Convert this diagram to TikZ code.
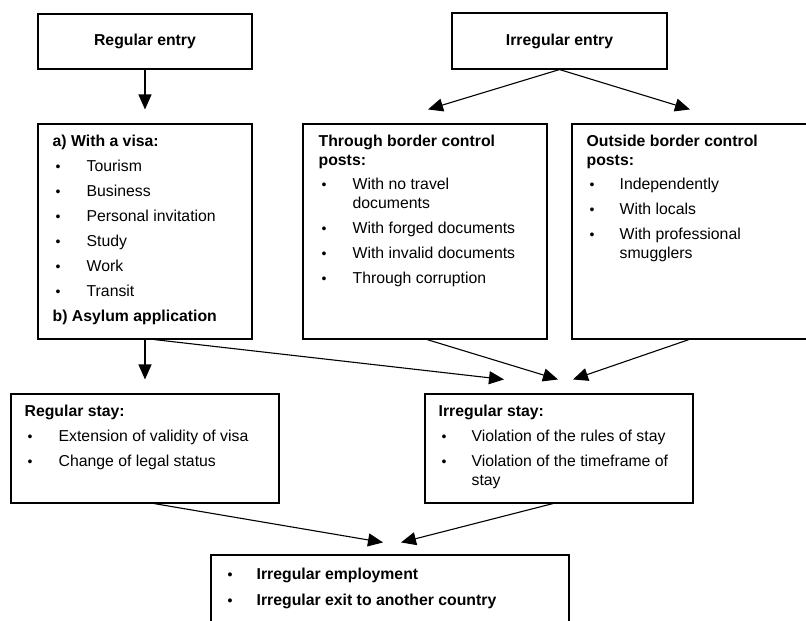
\documentclass[tikz,border=0pt]{standalone}
\usepackage{fontspec}
\setmainfont{Liberation Sans}
\usepackage{array}
\usetikzlibrary{arrows.meta,positioning,calc}
\newcommand{\bul}{\hspace{3pt}{\fontsize{14}{14}\selectfont\textbullet}}

\begin{document}
\begin{tikzpicture}[
    x=1pt, y=1pt,
    every node/.style={font=\fontsize{15.8}{19}\selectfont},
    box/.style={draw, line width=1.1pt, inner sep=0pt},
    head/.style={box, font=\fontsize{15.8}{19}\selectfont\bfseries},
    txt/.style={inner sep=0pt, anchor=north west},
    flow/.style={-{Triangle[length=15pt, width=13pt]}, line width=1.1pt},
]
\useasboundingbox (0,0) rectangle (806,-621);
\clip (0,0) rectangle (806,-621);

% === ENTRY ===
\node[head, minimum width=214pt, minimum height=55pt] (rentry) at (145,-41.5) {Regular entry};
\node[head, minimum width=215pt, minimum height=56pt] (ientry) at (559.5,-41) {Irregular entry};

% === WAYS OF ENTRY ===
\node[box, minimum width=214pt, minimum height=215pt] (visa) at (145,-231.5) {};
\node[box, minimum width=244pt, minimum height=215pt] (through) at (425,-231.5) {};
\node[box, minimum width=244pt, minimum height=215pt] (outside) at (694,-231.5) {};

\node[txt, below right=9.7pt and 15pt of visa.north west] (visatxt) {%
  \begin{tabular}{@{}p{34pt}@{}l@{}}
  \multicolumn{2}{@{}l@{}}{\bfseries a) With a visa:}\\[6pt]
  \bul & Tourism\\[6pt]
  \bul & Business\\[6pt]
  \bul & Personal invitation\\[6pt]
  \bul & Study\\[6pt]
  \bul & Work\\[6pt]
  \bul & Transit\\[6pt]
  \multicolumn{2}{@{}l@{}}{\bfseries b) Asylum application}
  \end{tabular}};

\node[txt, below right=9.7pt and 16pt of through.north west] (throughtxt) {%
  \begin{tabular}{@{}p{34pt}@{}l@{}}
  \multicolumn{2}{@{}l@{}}{\bfseries Through border control}\\
  \multicolumn{2}{@{}l@{}}{\bfseries posts:}\\[5pt]
  \bul & With no travel\\
       & documents\\[6pt]
  \bul & With forged documents\\[6pt]
  \bul & With invalid documents\\[6pt]
  \bul & Through corruption
  \end{tabular}};

\node[txt, below right=9.7pt and 15pt of outside.north west] (outsidetxt) {%
  \begin{tabular}{@{}p{33pt}@{}l@{}}
  \multicolumn{2}{@{}l@{}}{\bfseries Outside border control}\\
  \multicolumn{2}{@{}l@{}}{\bfseries posts:}\\[5pt]
  \bul & Independently\\[6pt]
  \bul & With locals\\[6pt]
  \bul & With professional\\
       & smugglers
  \end{tabular}};

% === STAY ===
\node[box, minimum width=268pt, minimum height=109pt] (rstay) at (145,-448.5) {};
\node[box, minimum width=268pt, minimum height=109pt] (istay) at (559,-448.5) {};

\node[txt, below right=9.7pt and 14pt of rstay.north west] (rstaytxt) {%
  \begin{tabular}{@{}p{34pt}@{}l@{}}
  \multicolumn{2}{@{}l@{}}{\bfseries Regular stay:}\\[6pt]
  \bul & Extension of validity of visa\\[6pt]
  \bul & Change of legal status
  \end{tabular}};

\node[txt, below right=9.7pt and 14pt of istay.north west] (istaytxt) {%
  \begin{tabular}{@{}p{33pt}@{}l@{}}
  \multicolumn{2}{@{}l@{}}{\bfseries Irregular stay:}\\[6pt]
  \bul & Violation of the rules of stay\\[6pt]
  \bul & Violation of the timeframe of\\
       & stay
  \end{tabular}};

% === OUTCOME ===
\node[box, minimum width=358pt, minimum height=85pt] (final) at (390,-597.5) {};
\node[txt, below right=11.7pt and 14pt of final.north west] (finaltxt) {%
  \bfseries
  \begin{tabular}{@{}p{32pt}@{}l@{}}
  \bul & Irregular employment\\[7pt]
  \bul & Irregular exit to another country
  \end{tabular}};

% Arrows
\draw[flow] (rentry.south) -- ([yshift=14pt]visa.north);
\draw[flow] (ientry.south) -- ([shift={(3pt,14pt)}]through.north);
\draw[flow] (ientry.south) -- ([shift={(-4pt,14pt)}]outside.north);
\draw[flow] (visa.south) -- ([yshift=14pt]rstay.north);
\draw[flow] ([xshift=9pt]visa.south) -- ([shift={(-55pt,14pt)}]istay.north);
\draw[flow] ([xshift=2pt]through.south) -- ([shift={(-1pt,14pt)}]istay.north);
\draw[flow] ([xshift=-5pt]outside.south) -- ([shift={(14pt,14pt)}]istay.north);
\draw[flow] ([xshift=9pt]rstay.south) -- ([shift={(-7pt,12pt)}]final.north);
\draw[flow] ([xshift=-6pt]istay.south) -- ([shift={(11pt,12pt)}]final.north);

\end{tikzpicture}
\end{document}
